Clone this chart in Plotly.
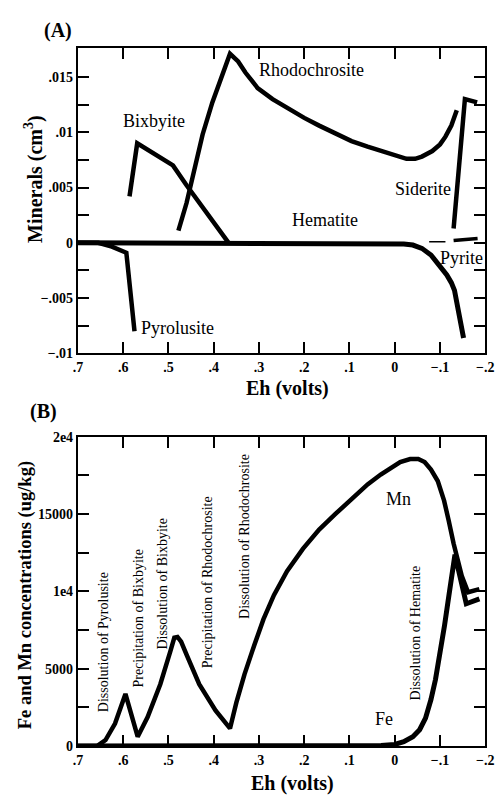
import plotly.graph_objects as go

# ---------------- Panel A: minerals (cm^3) vs Eh ----------------
hem_x = [0.70, 0.02, 0.0, -0.02, -0.04, -0.06, -0.08, -0.10, -0.115, -0.125, -0.132, -0.152]
hem_y = [0.0, 0.0, -0.00003, -0.0001, -0.0002, -0.0005, -0.0011, -0.0021, -0.0029, -0.0036, -0.0043, -0.0086]

pyrol_x = [0.70, 0.655, 0.625, 0.593, 0.575]
pyrol_y = [0.0, 0.0, -0.00035, -0.0009, -0.0080]

bix_x = [0.586, 0.569, 0.49, 0.46, 0.367]
bix_y = [0.0042, 0.0090, 0.0070, 0.0052, 0.0]

rhodo_x = [0.478, 0.46, 0.4245, 0.403, 0.364, 0.346, 0.33, 0.303, 0.27, 0.239, 0.2, 0.167,
           0.13, 0.0955, 0.06, 0.024, 0.0, -0.026, -0.045, -0.06, -0.083, -0.1, -0.112,
           -0.125, -0.137]
rhodo_y = [0.0011, 0.0036, 0.0098, 0.0127, 0.0171, 0.0164, 0.0154, 0.0140, 0.0130, 0.0122, 0.0113, 0.0106,
           0.0099, 0.0092, 0.0087, 0.0082, 0.0079, 0.0076, 0.0076, 0.0078, 0.0083, 0.0089, 0.0096,
           0.0106, 0.0120]

sid_x = [-0.130, -0.155, -0.182]
sid_y = [0.0013, 0.0130, 0.0127]

pyr_thin_x = [-0.076, -0.112]
pyr_thin_y = [0.0001, 0.0001]
pyr_thick_x = [-0.130, -0.183]
pyr_thick_y = [0.0002, 0.0004]

# ---------------- Panel B: Fe and Mn concentrations (ug/kg) ----------------
mn_x = [0.70, 0.657, 0.639, 0.618, 0.595, 0.568, 0.546, 0.518, 0.496, 0.487, 0.48,
        0.472, 0.46, 0.432, 0.396, 0.364, 0.35, 0.332, 0.31, 0.29, 0.267, 0.238,
        0.203, 0.167, 0.131, 0.095, 0.06, 0.031, 0.01, -0.012, -0.034, -0.052,
        -0.066, -0.080, -0.095, -0.109, -0.119, -0.130, -0.148, -0.162, -0.187]
mn_y = [0, 0, 380, 1450, 3360, 600, 1870, 3990, 6100, 7000, 7050,
        6750, 5900, 4000, 2300, 1130, 2800, 4630, 6550, 8200, 9750, 11300,
        12750, 14000, 15010, 15970, 16920, 17560, 17990, 18370, 18560, 18560,
        18370, 17880, 17140, 15870, 14600, 13100, 11000, 9940, 10150]

fe_x = [0.70, 0.06, 0.03, 0.0, -0.02, -0.04, -0.055, -0.068, -0.08, -0.09, -0.10,
        -0.11, -0.12, -0.133, -0.158, -0.187]
fe_y = [0, 0, 20, 100, 270, 600, 1050, 1800, 3000, 4300, 5900,
        7800, 9800, 12380, 9197, 9516]

# ticks
x_vals = [0.7, 0.6, 0.5, 0.4, 0.3, 0.2, 0.1, 0.0, -0.1, -0.2]
x_text = [".7", ".6", ".5", ".4", ".3", ".2", ".1", "0", "\u2212.1", "\u2212.2"]
ya_vals = [-0.01, -0.0075, -0.005, -0.0025, 0, 0.0025, 0.005, 0.0075, 0.01, 0.0125, 0.015]
ya_text = ["\u2212.01", " ", "\u2212.005", " ", "0", " ", ".005", " ", ".01", " ", ".015"]
yb_vals = [0, 2500, 5000, 7500, 10000, 12500, 15000, 17500, 20000]
yb_text = ["0", " ", "5000", " ", "1e4", " ", "15000", " ", "2e4"]

# labels
a_labels = [("Rhodochrosite", 0.1845, 0.01566), ("Bixbyite", 0.5325, 0.01106),
            ("Siderite", -0.0625, 0.00487), ("Hematite", 0.1545, 0.00204),
            ("Pyrite", -0.148, -0.00133), ("Pyrolusite", 0.479, -0.0077)]
b_labels = [("Mn", -0.009, 15950), ("Fe", 0.0235, 1760)]
b_vert = [("Dissolution of Pyrolusite", 0.642, 6724),
          ("Precipitation of Bixbyite", 0.567, 8250),
          ("Dissolution of Bixbyite", 0.513, 10477),
          ("Precipitation of Rhodochrosite", 0.4144, 10604),
          ("Dissolution of Rhodochrosite", 0.3306, 13530),
          ("Dissolution of Hematite", -0.0453, 7297)]

SERIF = "Liberation Serif"
fig = go.Figure()


def add_line(x, y, xa, ya, w=4.5):
    fig.add_trace(go.Scatter(x=x, y=y, mode="lines", line=dict(color="black", width=w),
                             xaxis=xa, yaxis=ya, showlegend=False, hoverinfo="skip"))


add_line(hem_x, hem_y, "x", "y", 5)
add_line(pyrol_x, pyrol_y, "x", "y")
add_line(bix_x, bix_y, "x", "y")
add_line(rhodo_x, rhodo_y, "x", "y")
add_line(sid_x, sid_y, "x", "y")
add_line(pyr_thin_x, pyr_thin_y, "x", "y", 1.5)
add_line(pyr_thick_x, pyr_thick_y, "x", "y", 3.5)

add_line(fe_x, fe_y, "x2", "y2", 5)
add_line(mn_x, mn_y, "x2", "y2")

xdom = [75 / 504, 494 / 504]
ya_dom = [(802 - 353) / 802, (802 - 42) / 802]
yb_dom = [(802 - 753) / 802, (802 - 438) / 802]

tickfont = dict(family=SERIF, size=14, color="black", weight="bold")
common = dict(showline=True, linecolor="black", linewidth=2, mirror="ticks",
              ticks="inside", ticklen=11, tickwidth=2, tickcolor="black",
              showgrid=False, zeroline=False, tickfont=tickfont, tickmode="array")

fig.update_layout(
    width=504, height=802, margin=dict(l=0, r=0, t=0, b=0),
    paper_bgcolor="white", plot_bgcolor="white",
    xaxis=dict(domain=xdom, anchor="y", range=[0.7, -0.2], tickvals=x_vals, ticktext=x_text, **common),
    yaxis=dict(domain=ya_dom, anchor="x", range=[-0.01, 0.0176], tickvals=ya_vals, ticktext=ya_text, **common),
    xaxis2=dict(domain=xdom, anchor="y2", range=[0.7, -0.2], tickvals=x_vals, ticktext=x_text, **common),
    yaxis2=dict(domain=yb_dom, anchor="x2", range=[0, 20000], tickvals=yb_vals, ticktext=yb_text, **common),
)

ann = []
for t, x, y in a_labels:
    ann.append(dict(text=t, x=x, y=y, xref="x", yref="y", showarrow=False,
                    font=dict(family=SERIF, size=18, color="black")))
for t, x, y in b_labels:
    ann.append(dict(text=t, x=x, y=y, xref="x2", yref="y2", showarrow=False,
                    font=dict(family=SERIF, size=18, color="black")))
for t, x, y in b_vert:
    ann.append(dict(text=t, x=x, y=y, xref="x2", yref="y2", showarrow=False, textangle=-90,
                    font=dict(family=SERIF, size=14, color="black")))


def pix(px, py, text, size, angle=0, bold=True):
    ann.append(dict(text=text, x=px / 504, y=1 - py / 802, xref="paper", yref="paper",
                    showarrow=False, textangle=angle, xanchor="center", yanchor="middle",
                    font=dict(family=SERIF, size=size, color="black",
                              weight="bold" if bold else "normal")))


pix(54, 24, "(A)", 20)
pix(40, 412, "(B)", 20)
pix(291, 389, "Eh (volts)", 20)
pix(296, 791, "Eh (volts)", 20)
pix(30, 175, "Minerals (cm<sup>3</sup>)", 20, -90)
pix(21, 599, "Fe and Mn concentrations (ug/kg)", 18.5, -90)

fig.update_layout(annotations=ann)
fig.write_html("out.html")
